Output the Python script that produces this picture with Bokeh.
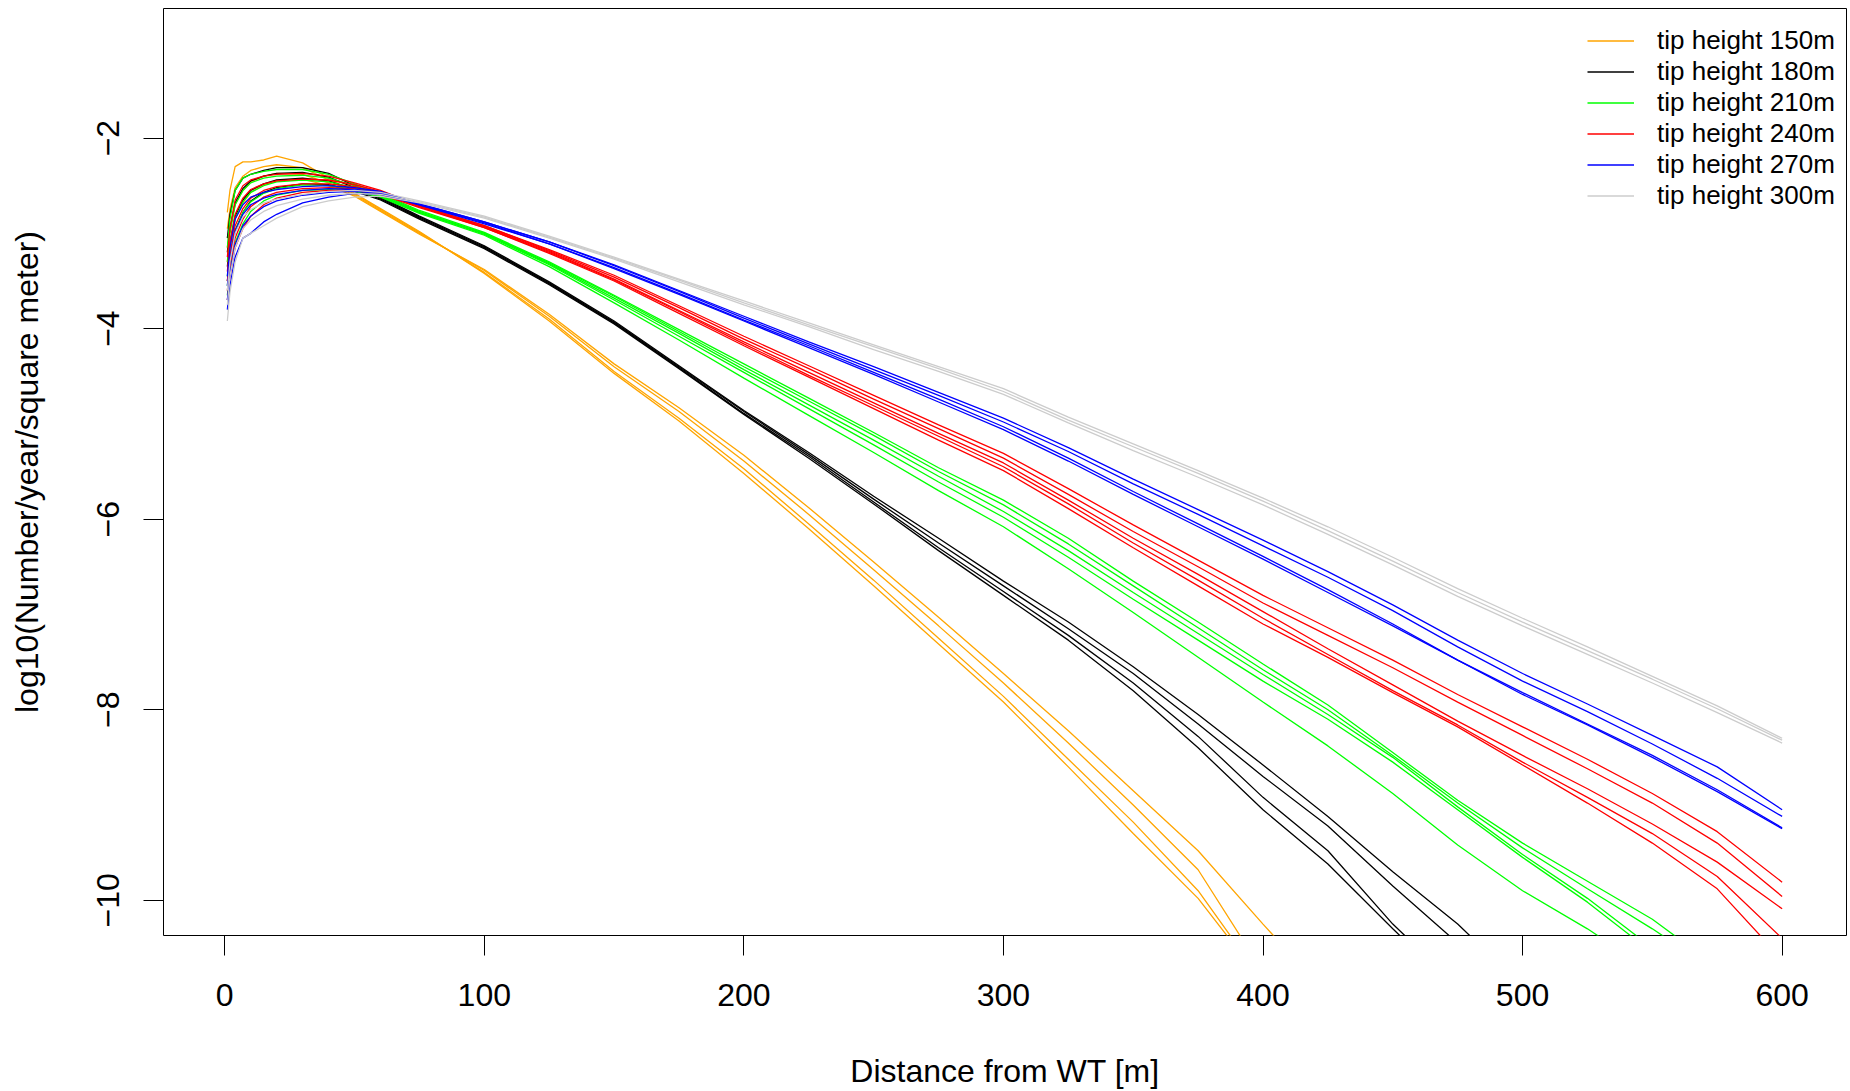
from bokeh.plotting import figure
from bokeh.models import Range1d, FixedTicker, Legend, LegendItem
from bokeh.embed import file_html
from bokeh.resources import INLINE

# ---------------- data ----------------
X_EARLY = [1, 2, 4, 7, 10, 15, 20, 30, 40, 50, 60, 75]

x_150 = X_EARLY + [100, 125, 150, 175, 200, 225, 250, 275, 300, 325, 350, 375, 400, 425]
x_180 = X_EARLY + [100, 125, 150, 175, 200, 225, 250, 275, 300, 325, 350, 375, 400, 425,
                   450, 475, 500]
x_210 = X_EARLY + [100, 125, 150, 175, 200, 225, 250, 275, 300, 325, 350, 375, 400, 425,
                   450, 475, 500, 525, 550, 575]
x_240 = X_EARLY + [100, 125, 150, 175, 200, 225, 250, 275, 300, 325, 350, 375, 400, 425,
                   450, 475, 500, 525, 550, 575, 600]
x_270 = x_240
x_300 = x_240

# tip height 150m
o1 = [-2.78, -2.55, -2.30, -2.25, -2.25, -2.23, -2.19, -2.26, -2.42, -2.58, -2.74, -2.98,
      -3.42, -3.92, -4.47, -4.97, -5.52, -6.10, -6.70, -7.31, -7.92, -8.60, -9.30, -9.98, -10.86, -11.7]
o2 = [-2.95, -2.75, -2.52, -2.40, -2.34, -2.30, -2.28, -2.31, -2.44, -2.59, -2.75, -2.99,
      -3.41, -3.90, -4.45, -4.94, -5.47, -6.05, -6.64, -7.25, -7.86, -8.52, -9.18, -9.90, -10.85, -11.7]
o3 = [-3.15, -2.95, -2.70, -2.55, -2.46, -2.40, -2.37, -2.38, -2.47, -2.60, -2.76, -3.00,
      -3.39, -3.87, -4.40, -4.87, -5.39, -5.95, -6.53, -7.12, -7.72, -8.35, -9.00, -9.68, -10.75, -11.6]
o4 = [-3.30, -3.10, -2.85, -2.68, -2.57, -2.49, -2.45, -2.43, -2.50, -2.61, -2.77, -3.01,
      -3.38, -3.85, -4.37, -4.83, -5.33, -5.88, -6.45, -7.03, -7.62, -8.22, -8.85, -9.48, -10.25, -11.0]

# tip height 180m
k1 = [-3.05, -2.80, -2.55, -2.42, -2.38, -2.34, -2.31, -2.31, -2.37, -2.50, -2.62, -2.82,
      -3.13, -3.51, -3.92, -4.39, -4.86, -5.30, -5.76, -6.20, -6.65, -7.08, -7.55, -8.05, -8.58,
      -9.12, -9.70, -10.25, -10.9]
k2 = [-3.20, -2.95, -2.68, -2.53, -2.45, -2.40, -2.37, -2.36, -2.41, -2.52, -2.63, -2.83,
      -3.14, -3.52, -3.93, -4.40, -4.87, -5.32, -5.79, -6.25, -6.70, -7.15, -7.62, -8.15, -8.70,
      -9.22, -9.85, -10.45, -11.1]
k3 = [-3.35, -3.10, -2.82, -2.65, -2.55, -2.48, -2.44, -2.42, -2.45, -2.54, -2.64, -2.84,
      -3.15, -3.53, -3.94, -4.41, -4.89, -5.34, -5.82, -6.30, -6.76, -7.22, -7.72, -8.28, -8.92,
      -9.48, -10.25, -10.9, -11.5]
k4 = [-3.50, -3.25, -2.97, -2.78, -2.66, -2.57, -2.52, -2.48, -2.49, -2.56, -2.65, -2.85,
      -3.16, -3.54, -3.95, -4.42, -4.90, -5.36, -5.84, -6.33, -6.80, -7.27, -7.80, -8.40, -9.05,
      -9.62, -10.30, -10.95, -11.6]

# tip height 210m
g1 = [-3.15, -2.85, -2.55, -2.42, -2.38, -2.35, -2.33, -2.33, -2.38, -2.48, -2.58, -2.76,
      -2.99, -3.30, -3.65, -4.01, -4.37, -4.73, -5.09, -5.46, -5.80, -6.20, -6.65, -7.08, -7.52,
      -7.95, -8.45, -8.95, -9.40, -9.80, -10.20, -10.70]
g2 = [-3.30, -3.00, -2.70, -2.55, -2.47, -2.42, -2.40, -2.39, -2.42, -2.50, -2.59, -2.77,
      -3.00, -3.31, -3.66, -4.03, -4.40, -4.76, -5.12, -5.50, -5.85, -6.26, -6.70, -7.14, -7.58,
      -8.00, -8.48, -8.98, -9.45, -9.88, -10.30, -10.75]
g3 = [-3.45, -3.15, -2.85, -2.67, -2.57, -2.50, -2.46, -2.44, -2.46, -2.52, -2.60, -2.78,
      -3.00, -3.32, -3.68, -4.05, -4.43, -4.80, -5.17, -5.55, -5.92, -6.33, -6.77, -7.20, -7.63,
      -8.05, -8.50, -9.02, -9.52, -9.98, -10.50, -11.0]
g4 = [-3.55, -3.28, -2.98, -2.78, -2.67, -2.58, -2.53, -2.49, -2.50, -2.54, -2.61, -2.78,
      -3.01, -3.33, -3.70, -4.08, -4.46, -4.84, -5.22, -5.61, -5.98, -6.40, -6.84, -7.27, -7.70,
      -8.10, -8.55, -9.05, -9.55, -10.02, -10.55, -11.1]
g5 = [-3.65, -3.40, -3.10, -2.90, -2.77, -2.66, -2.60, -2.55, -2.54, -2.56, -2.62, -2.79,
      -3.02, -3.35, -3.73, -4.12, -4.52, -4.91, -5.30, -5.70, -6.08, -6.52, -6.98, -7.45, -7.92,
      -8.38, -8.88, -9.42, -9.90, -10.30, -10.75, -11.2]

# tip height 240m
r1 = [-3.25, -2.95, -2.65, -2.50, -2.44, -2.40, -2.38, -2.37, -2.40, -2.47, -2.55, -2.71,
      -2.92, -3.17, -3.44, -3.76, -4.08, -4.39, -4.70, -5.01, -5.31, -5.68, -6.06, -6.43, -6.80,
      -7.14, -7.48, -7.84, -8.18, -8.52, -8.88, -9.28, -9.81]
r2 = [-3.40, -3.10, -2.80, -2.63, -2.54, -2.48, -2.45, -2.43, -2.44, -2.49, -2.56, -2.71,
      -2.92, -3.18, -3.46, -3.78, -4.11, -4.42, -4.74, -5.05, -5.36, -5.74, -6.13, -6.50, -6.88,
      -7.22, -7.56, -7.92, -8.27, -8.62, -8.98, -9.40, -9.96]
r3 = [-3.50, -3.22, -2.92, -2.74, -2.63, -2.55, -2.51, -2.48, -2.48, -2.51, -2.57, -2.72,
      -2.93, -3.19, -3.48, -3.81, -4.14, -4.46, -4.78, -5.10, -5.41, -5.80, -6.20, -6.58, -6.97,
      -7.36, -7.74, -8.12, -8.48, -8.83, -9.20, -9.60, -10.09]
r4 = [-3.60, -3.35, -3.05, -2.85, -2.72, -2.62, -2.57, -2.53, -2.52, -2.53, -2.58, -2.72,
      -2.94, -3.20, -3.49, -3.82, -4.16, -4.49, -4.81, -5.13, -5.45, -5.84, -6.25, -6.64, -7.04,
      -7.42, -7.80, -8.16, -8.55, -8.92, -9.30, -9.75, -10.40]
r5 = [-3.70, -3.45, -3.15, -2.95, -2.82, -2.70, -2.63, -2.57, -2.55, -2.55, -2.59, -2.73,
      -2.94, -3.21, -3.50, -3.84, -4.18, -4.51, -4.84, -5.17, -5.49, -5.89, -6.30, -6.70, -7.10,
      -7.45, -7.82, -8.18, -8.58, -8.98, -9.40, -9.88, -10.62]

# tip height 270m
b1 = [-3.45, -3.15, -2.85, -2.70, -2.62, -2.57, -2.54, -2.51, -2.50, -2.52, -2.56, -2.69,
      -2.88, -3.09, -3.33, -3.60, -3.87, -4.14, -4.40, -4.67, -4.94, -5.25, -5.58, -5.90, -6.22,
      -6.55, -6.90, -7.27, -7.62, -7.94, -8.27, -8.60, -9.05]
b2 = [-3.55, -3.28, -2.98, -2.80, -2.70, -2.63, -2.59, -2.55, -2.53, -2.54, -2.57, -2.69,
      -2.88, -3.09, -3.34, -3.61, -3.89, -4.16, -4.43, -4.70, -4.98, -5.29, -5.63, -5.95, -6.28,
      -6.61, -6.96, -7.34, -7.70, -8.02, -8.36, -8.72, -9.12]
b3 = [-3.70, -3.42, -3.12, -2.92, -2.82, -2.72, -2.66, -2.60, -2.57, -2.56, -2.58, -2.70,
      -2.89, -3.11, -3.36, -3.63, -3.91, -4.18, -4.46, -4.74, -5.03, -5.36, -5.71, -6.05, -6.39,
      -6.74, -7.10, -7.48, -7.84, -8.16, -8.50, -8.86, -9.25]
b4 = [-3.80, -3.55, -3.25, -3.05, -3.00, -2.88, -2.80, -2.68, -2.62, -2.58, -2.59, -2.70,
      -2.90, -3.11, -3.37, -3.64, -3.92, -4.20, -4.48, -4.77, -5.06, -5.39, -5.74, -6.08, -6.42,
      -6.77, -7.12, -7.48, -7.82, -8.15, -8.48, -8.84, -9.24]

# tip height 300m
s1 = [-3.60, -3.30, -3.00, -2.83, -2.75, -2.68, -2.64, -2.59, -2.56, -2.55, -2.57, -2.66,
      -2.82, -3.03, -3.25, -3.48, -3.71, -3.94, -4.17, -4.40, -4.63, -4.93, -5.21, -5.49, -5.78,
      -6.08, -6.40, -6.73, -7.04, -7.34, -7.65, -7.96, -8.30]
s2 = [-3.75, -3.45, -3.15, -2.95, -2.86, -2.77, -2.71, -2.64, -2.60, -2.58, -2.59, -2.67,
      -2.83, -3.04, -3.26, -3.49, -3.73, -3.96, -4.19, -4.42, -4.66, -4.96, -5.24, -5.52, -5.81,
      -6.12, -6.44, -6.77, -7.08, -7.38, -7.68, -7.99, -8.32]
s3 = [-3.92, -3.62, -3.30, -3.05, -3.00, -2.92, -2.84, -2.72, -2.66, -2.62, -2.61, -2.68,
      -2.84, -3.05, -3.27, -3.51, -3.75, -3.98, -4.22, -4.45, -4.69, -4.99, -5.28, -5.56, -5.85,
      -6.16, -6.48, -6.81, -7.12, -7.42, -7.72, -8.03, -8.35]

labels = ["tip height 150m", "tip height 180m", "tip height 210m",
          "tip height 240m", "tip height 270m", "tip height 300m"]
colors = ["#FFA500", "#000000", "#00FF00", "#FF0000", "#0000FF", "#CCCCCC"]
group_x = [x_150, x_180, x_210, x_240, x_270, x_300]
group_curves = [[o1, o2, o3, o4], [k1, k2, k3, k4], [g1, g2, g3, g4, g5],
                [r1, r2, r3, r4, r5], [b1, b2, b3, b4], [s1, s2, s3]]

x_ticks = [0, 100, 200, 300, 400, 500, 600]
y_ticks = [-10, -8, -6, -4, -2]

# ---------------- figure ----------------
FONT = "Liberation Sans"
p = figure(width=1848, height=1091,
           x_range=Range1d(-23.6, 624.8), y_range=Range1d(-10.37, -0.64),
           output_backend="svg", toolbar_location=None,
           min_border_left=163, min_border_right=2, min_border_top=8, min_border_bottom=150)
p.grid.visible = False
p.outline_line_color = "black"
p.outline_line_width = 1
p.outline_line_alpha = 1

items = []
for lab, col, xs, curves in zip(labels, colors, group_x, group_curves):
    first = None
    for ys in curves:
        r = p.line(xs, ys, line_color=col, line_width=1.3)
        if first is None:
            first = r
    items.append(LegendItem(label=lab, renderers=[first]))

legend = Legend(items=items, location=(1424, 724),
                border_line_color=None, background_fill_alpha=0,
                label_text_font=FONT, label_text_font_size="26px", label_text_color="black",
                glyph_width=47, glyph_height=31, label_height=31, label_standoff=23,
                spacing=0, padding=10, margin=0)
p.add_layout(legend, "center")

for ax in (p.xaxis[0], p.yaxis[0]):
    ax.axis_line_color = None
    ax.major_tick_out = 20
    ax.major_tick_in = 0
    ax.minor_tick_out = 0
    ax.minor_tick_in = 0
    ax.major_tick_line_color = "black"
    ax.major_label_text_font = FONT
    ax.major_label_text_font_size = "32px"
    ax.major_label_text_color = "black"
    ax.axis_label_text_font = FONT
    ax.axis_label_text_font_size = "32px"
    ax.axis_label_text_font_style = "normal"
    ax.axis_label_text_color = "black"

p.xaxis.ticker = FixedTicker(ticks=x_ticks)
p.yaxis.ticker = FixedTicker(ticks=y_ticks)
p.xaxis.axis_label = "Distance from WT [m]"
p.yaxis.axis_label = "log10(Number/year/square meter)"
p.xaxis.major_label_standoff = 28
p.xaxis.axis_label_standoff = 44
p.yaxis.major_label_orientation = "vertical"
p.yaxis.major_label_standoff = 24
p.yaxis.axis_label_standoff = 50

open("out.html", "w").write(file_html(p, INLINE))
